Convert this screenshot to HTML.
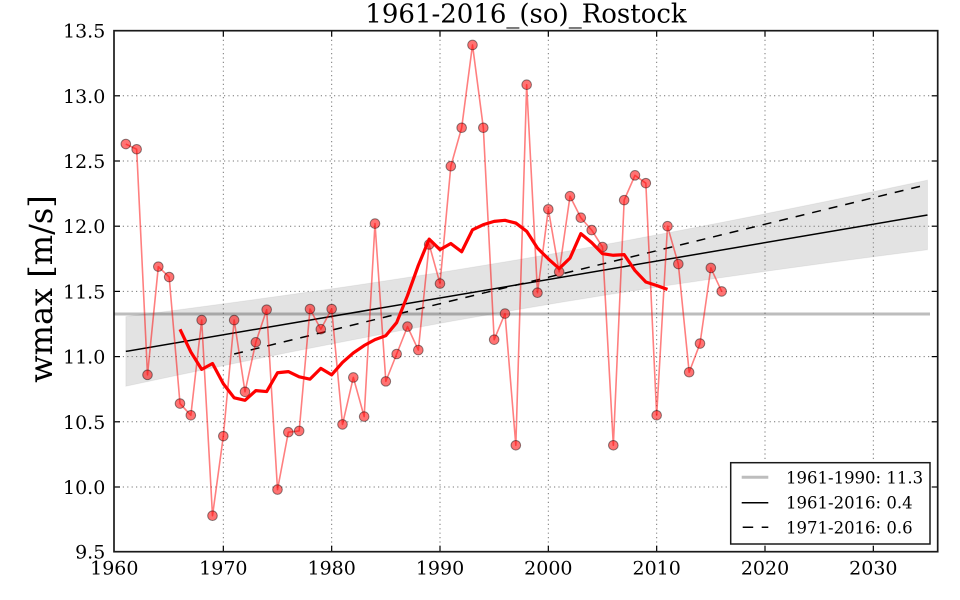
<!DOCTYPE html>
<html>
<head>
<meta charset="utf-8">
<style>
html,body{margin:0;padding:0;background:#fff;}
svg{display:block;}
text{font-family:"DejaVu Serif","Liberation Serif",serif;fill:#000;}
</style>
</head>
<body>
<svg width="960" height="600" viewBox="0 0 960 600" xmlns="http://www.w3.org/2000/svg">
<rect x="0" y="0" width="960" height="600" fill="#fff"/>
<polygon fill="#000" fill-opacity="0.11" stroke="#000" stroke-opacity="0.05" stroke-width="1" points="125.83,316.57 180,309.57 234.17,302.35 288.33,294.93 342.5,287.21 396.67,279.17 450.83,270.74 505,261.93 559.17,252.66 613.33,242.97 667.5,232.88 721.67,222.43 775.83,211.65 830,200.6 884.17,189.32 927.5,180.16 927.5,249.79 884.17,255.38 830,262.54 775.83,269.94 721.67,277.59 667.5,285.56 613.33,293.9 559.17,302.65 505,311.82 450.83,321.42 396.67,331.43 342.5,341.83 288.33,352.54 234.17,363.54 180,374.76 125.83,386.2"/>
<g stroke="#777" stroke-width="1" stroke-dasharray="1.2 3.2" fill="none">
<line x1="223.33" y1="31" x2="223.33" y2="551"/>
<line x1="331.67" y1="31" x2="331.67" y2="551"/>
<line x1="440" y1="31" x2="440" y2="551"/>
<line x1="548.33" y1="31" x2="548.33" y2="551"/>
<line x1="656.67" y1="31" x2="656.67" y2="551"/>
<line x1="765" y1="31" x2="765" y2="551"/>
<line x1="873.33" y1="31" x2="873.33" y2="551"/>
<line x1="114" y1="95.8" x2="938" y2="95.8"/>
<line x1="114" y1="161" x2="938" y2="161"/>
<line x1="114" y1="226.2" x2="938" y2="226.2"/>
<line x1="114" y1="291.4" x2="938" y2="291.4"/>
<line x1="114" y1="356.6" x2="938" y2="356.6"/>
<line x1="114" y1="421.8" x2="938" y2="421.8"/>
<line x1="114" y1="487" x2="938" y2="487"/>
</g>
<line x1="114" y1="314" x2="930" y2="314" stroke="#000" stroke-opacity="0.26" stroke-width="3"/>
<line x1="125.83" y1="351.4" x2="927.5" y2="215" stroke="#000" stroke-width="1.5"/>
<line x1="234.17" y1="354" x2="927.5" y2="184.5" stroke="#000" stroke-width="1.5" stroke-dasharray="9 8"/>
<polyline fill="none" stroke="#ff0000" stroke-opacity="0.5" stroke-width="1.6" stroke-linejoin="round" points="125.83,144.05 136.67,149.26 147.5,374.86 158.33,266.62 169.17,277.06 180,403.54 190.83,415.28 201.67,320.09 212.5,515.69 223.33,436.14 234.17,320.09 245,391.81 255.83,342.26 266.67,309.66 277.5,489.61 288.33,432.23 299.17,430.93 310,309 320.83,329.22 331.67,309 342.5,424.41 353.33,377.46 364.17,416.58 375,223.59 385.83,381.38 396.67,353.99 407.5,326.61 418.33,350.08 429.17,244.46 440,283.58 450.83,166.22 461.67,127.75 472.5,44.94 483.33,127.75 494.17,339.65 505,313.57 515.83,445.27 526.67,84.72 537.5,292.7 548.33,209.25 559.17,271.84 570,196.21 580.83,217.72 591.67,230.11 602.5,247.06 613.33,445.27 624.17,200.12 635,175.34 645.83,183.17 656.67,415.28 667.5,226.2 678.33,264.02 689.17,372.25 700,343.56 710.83,267.93 721.67,291.4"/>
<g fill="#ff0000" fill-opacity="0.55" stroke="#000" stroke-opacity="0.45" stroke-width="1">
<circle cx="125.83" cy="144.05" r="4.8"/>
<circle cx="136.67" cy="149.26" r="4.8"/>
<circle cx="147.5" cy="374.86" r="4.8"/>
<circle cx="158.33" cy="266.62" r="4.8"/>
<circle cx="169.17" cy="277.06" r="4.8"/>
<circle cx="180" cy="403.54" r="4.8"/>
<circle cx="190.83" cy="415.28" r="4.8"/>
<circle cx="201.67" cy="320.09" r="4.8"/>
<circle cx="212.5" cy="515.69" r="4.8"/>
<circle cx="223.33" cy="436.14" r="4.8"/>
<circle cx="234.17" cy="320.09" r="4.8"/>
<circle cx="245" cy="391.81" r="4.8"/>
<circle cx="255.83" cy="342.26" r="4.8"/>
<circle cx="266.67" cy="309.66" r="4.8"/>
<circle cx="277.5" cy="489.61" r="4.8"/>
<circle cx="288.33" cy="432.23" r="4.8"/>
<circle cx="299.17" cy="430.93" r="4.8"/>
<circle cx="310" cy="309" r="4.8"/>
<circle cx="320.83" cy="329.22" r="4.8"/>
<circle cx="331.67" cy="309" r="4.8"/>
<circle cx="342.5" cy="424.41" r="4.8"/>
<circle cx="353.33" cy="377.46" r="4.8"/>
<circle cx="364.17" cy="416.58" r="4.8"/>
<circle cx="375" cy="223.59" r="4.8"/>
<circle cx="385.83" cy="381.38" r="4.8"/>
<circle cx="396.67" cy="353.99" r="4.8"/>
<circle cx="407.5" cy="326.61" r="4.8"/>
<circle cx="418.33" cy="350.08" r="4.8"/>
<circle cx="429.17" cy="244.46" r="4.8"/>
<circle cx="440" cy="283.58" r="4.8"/>
<circle cx="450.83" cy="166.22" r="4.8"/>
<circle cx="461.67" cy="127.75" r="4.8"/>
<circle cx="472.5" cy="44.94" r="4.8"/>
<circle cx="483.33" cy="127.75" r="4.8"/>
<circle cx="494.17" cy="339.65" r="4.8"/>
<circle cx="505" cy="313.57" r="4.8"/>
<circle cx="515.83" cy="445.27" r="4.8"/>
<circle cx="526.67" cy="84.72" r="4.8"/>
<circle cx="537.5" cy="292.7" r="4.8"/>
<circle cx="548.33" cy="209.25" r="4.8"/>
<circle cx="559.17" cy="271.84" r="4.8"/>
<circle cx="570" cy="196.21" r="4.8"/>
<circle cx="580.83" cy="217.72" r="4.8"/>
<circle cx="591.67" cy="230.11" r="4.8"/>
<circle cx="602.5" cy="247.06" r="4.8"/>
<circle cx="613.33" cy="445.27" r="4.8"/>
<circle cx="624.17" cy="200.12" r="4.8"/>
<circle cx="635" cy="175.34" r="4.8"/>
<circle cx="645.83" cy="183.17" r="4.8"/>
<circle cx="656.67" cy="415.28" r="4.8"/>
<circle cx="667.5" cy="226.2" r="4.8"/>
<circle cx="678.33" cy="264.02" r="4.8"/>
<circle cx="689.17" cy="372.25" r="4.8"/>
<circle cx="700" cy="343.56" r="4.8"/>
<circle cx="710.83" cy="267.93" r="4.8"/>
<circle cx="721.67" cy="291.4" r="4.8"/>
</g>
<polyline fill="none" stroke="#ff0000" stroke-width="3.2" stroke-linejoin="round" points="180,329.35 190.83,351.91 201.67,369.38 212.5,363.51 223.33,383.72 234.17,397.81 245,400.28 255.83,390.63 266.67,391.55 277.5,372.77 288.33,371.6 299.17,376.81 310,379.16 320.83,368.34 331.67,374.86 342.5,362.47 353.33,352.95 364.17,345.52 375,339.65 385.83,335.61 396.67,322.57 407.5,295.57 418.33,265.32 429.17,239.11 440,249.67 450.83,243.54 461.67,251.76 472.5,229.85 483.33,224.64 494.17,221.38 505,220.33 515.83,223.07 526.67,231.29 537.5,248.11 548.33,258.93 559.17,268.58 570,258.15 580.83,233.63 591.67,242.63 602.5,253.71 613.33,255.28 624.17,254.63 635,270.54 645.83,282.01 656.67,285.53 667.5,289.44"/>
<g stroke="#000" stroke-width="1.2">
<line x1="223.33" y1="551.7" x2="223.33" y2="545.7"/><line x1="223.33" y1="30.7" x2="223.33" y2="36.7"/>
<line x1="331.67" y1="551.7" x2="331.67" y2="545.7"/><line x1="331.67" y1="30.7" x2="331.67" y2="36.7"/>
<line x1="440" y1="551.7" x2="440" y2="545.7"/><line x1="440" y1="30.7" x2="440" y2="36.7"/>
<line x1="548.33" y1="551.7" x2="548.33" y2="545.7"/><line x1="548.33" y1="30.7" x2="548.33" y2="36.7"/>
<line x1="656.67" y1="551.7" x2="656.67" y2="545.7"/><line x1="656.67" y1="30.7" x2="656.67" y2="36.7"/>
<line x1="765" y1="551.7" x2="765" y2="545.7"/><line x1="765" y1="30.7" x2="765" y2="36.7"/>
<line x1="873.33" y1="551.7" x2="873.33" y2="545.7"/><line x1="873.33" y1="30.7" x2="873.33" y2="36.7"/>
<line x1="114" y1="95.8" x2="120" y2="95.8"/><line x1="937.7" y1="95.8" x2="931.7" y2="95.8"/>
<line x1="114" y1="161" x2="120" y2="161"/><line x1="937.7" y1="161" x2="931.7" y2="161"/>
<line x1="114" y1="226.2" x2="120" y2="226.2"/><line x1="937.7" y1="226.2" x2="931.7" y2="226.2"/>
<line x1="114" y1="291.4" x2="120" y2="291.4"/><line x1="937.7" y1="291.4" x2="931.7" y2="291.4"/>
<line x1="114" y1="356.6" x2="120" y2="356.6"/><line x1="937.7" y1="356.6" x2="931.7" y2="356.6"/>
<line x1="114" y1="421.8" x2="120" y2="421.8"/><line x1="937.7" y1="421.8" x2="931.7" y2="421.8"/>
<line x1="114" y1="487" x2="120" y2="487"/><line x1="937.7" y1="487" x2="931.7" y2="487"/>
</g>
<rect x="114" y="30.7" width="823.7" height="521" fill="none" stroke="#1a1a1a" stroke-width="1.7"/>
<rect x="730.7" y="462.7" width="199.3" height="81.3" fill="#fff" stroke="#1a1a1a" stroke-width="1.5"/>
<line x1="741.7" y1="477.3" x2="768.3" y2="477.3" stroke="#bdbdbd" stroke-width="3"/>
<line x1="741.7" y1="502.7" x2="768.3" y2="502.7" stroke="#000" stroke-width="1.5"/>
<line x1="742.7" y1="527.3" x2="768.3" y2="527.3" stroke="#000" stroke-width="1.5" stroke-dasharray="10.5 8.5"/>
<g font-size="16.5">
<text x="786" y="483.3">1961-1990: 11.3</text>
<text x="786" y="508.5">1961-2016: 0.4</text>
<text x="786" y="533.5">1971-2016: 0.6</text>
</g>
<g font-size="19" text-anchor="end">
<text x="105.3" y="37.6">13.5</text>
<text x="105.3" y="102.8">13.0</text>
<text x="105.3" y="168">12.5</text>
<text x="105.3" y="233.2">12.0</text>
<text x="105.3" y="298.4">11.5</text>
<text x="105.3" y="363.6">11.0</text>
<text x="105.3" y="428.8">10.5</text>
<text x="105.3" y="494">10.0</text>
<text x="105.3" y="558.7">9.5</text>
</g>
<g font-size="19" text-anchor="middle">
<text x="114.3" y="574.3">1960</text>
<text x="223.33" y="574.3">1970</text>
<text x="331.67" y="574.3">1980</text>
<text x="440" y="574.3">1990</text>
<text x="548.33" y="574.3">2000</text>
<text x="656.67" y="574.3">2010</text>
<text x="765" y="574.3">2020</text>
<text x="873.33" y="574.3">2030</text>
</g>
<text x="526" y="22.7" font-size="26" text-anchor="middle">1961-2016_(so)_Rostock</text>
<text transform="translate(52,289) rotate(-90)" font-size="32" text-anchor="middle">wmax [m/s]</text>
</svg>
</body>
</html>
